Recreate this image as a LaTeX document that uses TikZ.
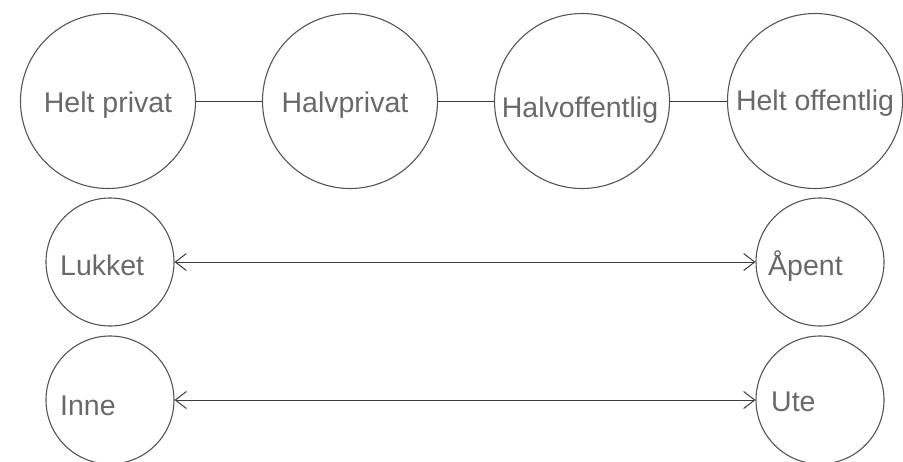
\documentclass[tikz,border=0pt]{standalone}
\usepackage{fontspec}
\setmainfont{Liberation Sans}
\usetikzlibrary{arrows.meta}
\definecolor{ringcol}{RGB}{85,85,85}
\definecolor{txtcol}{RGB}{105,105,105}
\definecolor{linecol}{RGB}{60,60,60}
\tikzset{
  bigring/.style={circle,draw=ringcol,line width=1.1pt,minimum size=175pt,inner sep=0pt},
  smallring/.style={circle,draw=ringcol,line width=1.1pt,minimum size=128pt,inner sep=0pt},
  lbl/.style={text=txtcol,inner sep=0pt,font=\fontsize{28.5}{32}\selectfont},
  link/.style={draw=linecol,line width=1pt},
  twoway/.style={draw=linecol,line width=1pt,{Straight Barb[length=11pt,width=17pt]}-{Straight Barb[length=11pt,width=17pt]}}
}
\begin{document}
\begin{tikzpicture}[x=1pt,y=-1pt]
\useasboundingbox (0,0) rectangle (903,461);
% top row
\node[bigring] (hp) at (108,101) {};
\node[bigring] (hv) at (350,101) {};
\node[bigring] (ho) at (582,101) {};
\node[bigring] (hf) at (815,101) {};
\node[lbl,anchor=base] (thp) at (108,112) {Helt privat};
\node[lbl,anchor=base] (thv) at (345,112) {Halvprivat};
\node[lbl,anchor=base] (tho) at (580,117) {Halvoffentlig};
\node[lbl,anchor=base] (thf) at (815,110) {Helt offentlig};
\draw[link] (hp.east) -- (hv.west);
\draw[link] (hv.east) -- (ho.west);
\draw[link] (ho.east) -- (hf.west);
% middle row
\node[smallring] (lu) at (110,262) {};
\node[smallring] (ap) at (820,262) {};
\node[lbl,anchor=base west] (tlu) at (60,275) {Lukket};
\node[lbl,anchor=base west] (tap) at (768,275) {Åpent};
\draw[twoway] (lu.east) -- (ap.west);
% bottom row
\node[smallring] (in) at (110,400) {};
\node[smallring] (ut) at (820,400) {};
\node[lbl,anchor=base west] (tin) at (60,415) {Inne};
\node[lbl,anchor=base west] (tut) at (771,411) {Ute};
\draw[twoway] (in.east) -- (ut.west);
\end{tikzpicture}
\end{document}
